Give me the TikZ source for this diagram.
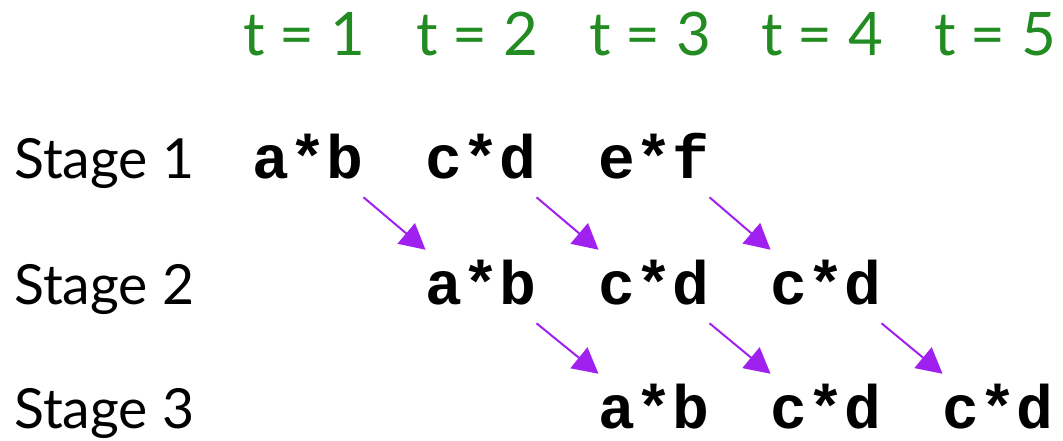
\documentclass[tikz,border=0pt]{standalone}
\usepackage{fontspec}
\setmainfont{Lato}
\setmonofont{Liberation Mono}
\usetikzlibrary{arrows.meta}
\definecolor{tgreen}{RGB}{34,139,34}
\definecolor{apurple}{RGB}{160,32,240}
\begin{document}
\begin{tikzpicture}[x=0.75pt,y=-0.75pt,
 code/.style={font=\fontsize{46}{46}\selectfont\ttfamily\bfseries, inner sep=0pt, text height=40.5pt, text depth=14.25pt, anchor=base},
 stage/.style={font=\fontsize{41.5}{41.5}\selectfont, inner sep=0pt, anchor=base west},
 tlab/.style={font=\fontsize{45}{45}\selectfont, text=tgreen, inner sep=0pt, anchor=base},
 flow/.style={draw=apurple, line width=1.5pt, -{Triangle[length=19pt,width=20pt,fill=apurple]}}]
\useasboundingbox (0,0) rectangle (1063,440);
% time labels
\node[tlab] (t1) at (304,55) {t = 1};
\node[tlab] (t2) at (477,55) {t = 2};
\node[tlab] (t3) at (650,55) {t = 3};
\node[tlab] (t4) at (822,55) {t = 4};
\node[tlab] (t5) at (995,55) {t = 5};
% stage labels
\node[stage] (s1) at (14,178) {Stage 1};
\node[stage] (s2) at (14,304) {Stage 2};
\node[stage] (s3) at (14,428) {Stage 3};
% row 1
\node[code] (a1) at (308,178) {a*b};
\node[code] (b1) at (481,178) {c*d};
\node[code] (c1) at (654,178) {e*f};
% row 2
\node[code] (b2) at (481,304) {a*b};
\node[code] (c2) at (654,304) {c*d};
\node[code] (d2) at (826,304) {c*d};
% row 3
\node[code] (c3) at (654,428) {a*b};
\node[code] (d3) at (826,428) {c*d};
\node[code] (e3) at (998,428) {c*d};
% arrows
\draw[flow] (a1.south east) -- (b2.north west);
\draw[flow] (b1.south east) -- (c2.north west);
\draw[flow] (c1.south east) -- (d2.north west);
\draw[flow] (b2.south east) -- (c3.north west);
\draw[flow] (c2.south east) -- (d3.north west);
\draw[flow] (d2.south east) -- (e3.north west);
\end{tikzpicture}
\end{document}
